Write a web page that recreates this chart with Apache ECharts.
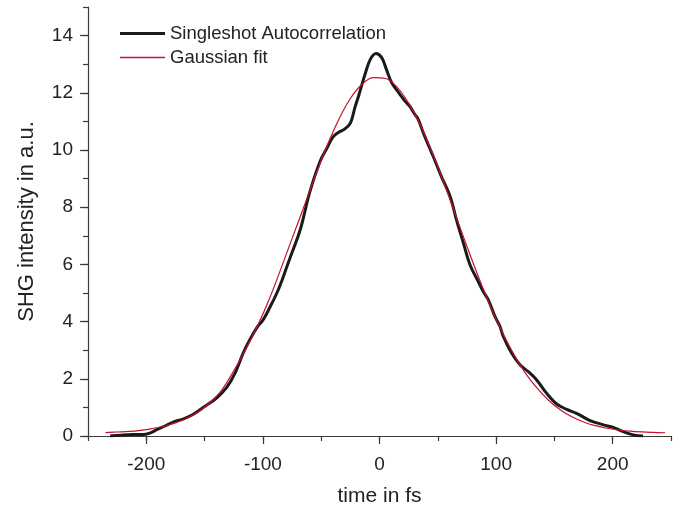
<!DOCTYPE html>
<html>
<head>
<meta charset="utf-8">
<script src="https://cdn.jsdelivr.net/npm/echarts@6/dist/echarts.min.js"></script>
<style>
html,body{margin:0;padding:0;background:#fff;}
#chart{width:682px;height:507px;}
</style>
</head>
<body>
<div id="chart"></div>
<script>
// Singleshot autocorrelation trace (time in fs, SHG intensity in a.u.)
var autocorrTime = [-231, -222, -212, -203, -197, -191, -184, -176, -168, -160, -150, -140, -131, -124, -117, -111, -105, -100, -94, -88, -84, -77, -68, -60, -51, -45, -40, -35, -30, -25, -21, -18, -12, -8, -3, 2, 6, 10.5, 17.6, 22, 26, 30.4, 33, 37.6, 43, 46, 53, 60.5, 66, 72, 77.6, 84.7, 89, 93.3, 99, 103.3, 106.2, 113.4, 120.5, 127.6, 134.8, 143.4, 152, 160.5, 169, 180.5, 192, 200.5, 209, 217.7, 226];
var autocorrSignal = [0.0, 0.03, 0.05, 0.05, 0.1, 0.22, 0.35, 0.5, 0.6, 0.75, 1.03, 1.32, 1.7, 2.19, 2.89, 3.38, 3.8, 4.05, 4.5, 5.0, 5.4, 6.2, 7.21, 8.5, 9.6, 10.07, 10.45, 10.62, 10.73, 10.94, 11.5, 11.88, 12.7, 13.16, 13.37, 13.22, 12.81, 12.35, 11.94, 11.7, 11.53, 11.24, 11.09, 10.6, 10.07, 9.78, 9.08, 8.38, 7.56, 6.74, 5.99, 5.4, 5.05, 4.76, 4.18, 3.83, 3.48, 2.89, 2.49, 2.25, 1.96, 1.49, 1.12, 0.93, 0.79, 0.54, 0.39, 0.3, 0.15, 0.04, 0.0];

// Gaussian fit curve
var fitTime = [-235, -225, -215, -205, -195, -185, -175, -165, -155, -145, -135, -125, -115, -105, -95, -85, -75, -65, -55, -45, -35, -25, -15, -5, 5, 15, 25, 35, 45, 55, 65, 75, 85, 95, 105, 115, 125, 135, 145, 155, 165, 175, 185, 195, 205, 215, 225, 235, 245];
var fitSignal = [0.12, 0.14, 0.16, 0.2, 0.26, 0.34, 0.46, 0.63, 0.86, 1.18, 1.62, 2.28, 3.01, 3.82, 4.74, 5.8, 6.9, 8.0, 9.1, 10.15, 11.06, 11.8, 12.3, 12.53, 12.5, 12.2, 11.64, 10.87, 9.93, 8.87, 7.75, 6.63, 5.55, 4.55, 3.65, 2.87, 2.21, 1.68, 1.25, 0.92, 0.67, 0.49, 0.36, 0.27, 0.21, 0.168, 0.141, 0.125, 0.114];

// Axis ticks
var xMajorTicks = [-200, -100, 0, 100, 200];
var yMajorTicks = [0, 2, 4, 6, 8, 10, 12, 14];

var seriesNames = ['Singleshot Autocorrelation', 'Gaussian fit'];

function zip(xs, ys) {
  var out = [];
  for (var i = 0; i < xs.length; i++) out.push([xs[i], ys[i]]);
  return out;
}

var FONT = "'Liberation Sans', Arial, Helvetica, sans-serif";
var AXIS_COLOR = '#3a3a3a';
var TEXT_COLOR = '#222';
var BLACK = '#1a1a1a';
var RED = '#c8102e';

var chart = echarts.init(document.getElementById('chart'), null, {renderer: 'canvas'});

function legendFor(name, color, thickness, top) {
  return {
    orient: 'vertical',
    left: 115,
    top: top,
    icon: 'rect',
    itemWidth: 45,
    itemHeight: thickness,
    itemGap: 0,
    selectedMode: false,
    itemStyle: {color: color, borderWidth: 0},
    lineStyle: {color: color, width: thickness},
    textStyle: {fontSize: 18.5, color: TEXT_COLOR, fontFamily: FONT, padding: [0, 0, 0, 0]},
    data: [{name: name, itemStyle: {color: color, borderWidth: 0}}]
  };
}

var option = {
  animation: false,
  backgroundColor: '#fff',
  textStyle: {fontFamily: FONT},
  grid: {left: 88, right: 11, top: 7, bottom: 71, containLabel: false, outerBoundsMode: 'none'},
  legend: [
    legendFor(seriesNames[0], BLACK, 3, 19),
    legendFor(seriesNames[1], RED, 1.5, 43)
  ],
  xAxis: [
    {
      type: 'value', min: -250, max: 250, interval: 50,
      name: 'time in fs', nameLocation: 'middle', nameGap: 50,
      nameTextStyle: {fontSize: 21, color: TEXT_COLOR, fontFamily: FONT},
      axisLine: {show: true, onZero: false, lineStyle: {color: AXIS_COLOR, width: 1.2}},
      axisTick: {show: true, inside: false, length: 8, customValues: xMajorTicks, lineStyle: {color: AXIS_COLOR, width: 1.2}},
      axisLabel: {show: true, margin: 19, fontSize: 19, color: TEXT_COLOR, fontFamily: FONT, customValues: xMajorTicks},
      splitLine: {show: false}
    },
    {
      type: 'value', min: -250, max: 250, interval: 50, position: 'bottom',
      axisLine: {show: false, onZero: false},
      axisTick: {show: true, inside: false, length: 5, lineStyle: {color: AXIS_COLOR, width: 1.2}},
      axisLabel: {show: false},
      splitLine: {show: false}
    }
  ],
  yAxis: [
    {
      type: 'value', min: 0, max: 15, interval: 2, position: 'left',
      name: 'SHG intensity in a.u.', nameLocation: 'middle', nameGap: 50,
      nameTextStyle: {fontSize: 22, color: TEXT_COLOR, fontFamily: FONT},
      axisLine: {show: true, onZero: false, lineStyle: {color: AXIS_COLOR, width: 1.2}},
      axisTick: {show: true, inside: false, length: 8, customValues: yMajorTicks, lineStyle: {color: AXIS_COLOR, width: 1.2}},
      axisLabel: {show: true, margin: 15, fontSize: 19, color: TEXT_COLOR, fontFamily: FONT, customValues: yMajorTicks},
      splitLine: {show: false}
    },
    {
      type: 'value', min: 0, max: 15, interval: 1, position: 'left',
      axisLine: {show: false, onZero: false},
      axisTick: {show: true, inside: false, length: 5, lineStyle: {color: AXIS_COLOR, width: 1.2}},
      axisLabel: {show: false},
      splitLine: {show: false}
    }
  ],
  series: [
    {
      name: seriesNames[1], type: 'line', xAxisIndex: 0, yAxisIndex: 0,
      data: zip(fitTime, fitSignal), smooth: 0.4, symbol: 'none',
      lineStyle: {color: RED, width: 1.2}, itemStyle: {color: RED}, z: 3
    },
    {
      name: seriesNames[0], type: 'line', xAxisIndex: 0, yAxisIndex: 0,
      data: zip(autocorrTime, autocorrSignal), smooth: 0.35, symbol: 'none',
      lineStyle: {color: BLACK, width: 3}, itemStyle: {color: BLACK}, z: 2
    }
  ]
};
chart.setOption(option);
</script>
</body>
</html>
